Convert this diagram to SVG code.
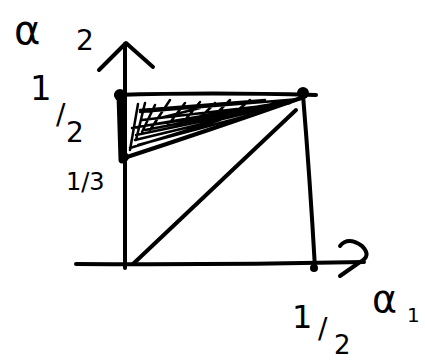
<svg xmlns="http://www.w3.org/2000/svg" width="425" height="360" viewBox="0 0 425 360">
<style>
.s{fill:none;stroke:#000;stroke-width:4;stroke-linecap:round;stroke-linejoin:round}
.t{stroke-width:7}
.h{stroke-width:2.5}
.d{fill:#000}
.l{font-family:"DejaVu Sans","Liberation Sans",sans-serif;fill:#000}
</style>
<rect width="425" height="360" fill="#fff"/>
<g id="axes">
<path class="s" d="M125,268 L125,44"/>
<path class="s" d="M99,70 L126,43 L153,67"/>
<path class="s" d="M76,264 Q220,265 364,262"/>
<path class="s" d="M340,246 Q348,236 362,246 Q372,256 360,262 L340,276"/>
</g>
<g id="region">
<path class="s" d="M116,95 Q210,92 316,95"/>
<path class="s t" d="M120,95 L122,160"/>
<path class="s" d="M124,158 Q210,130 301,98"/>
<path class="s h" d="M138,104 L130,150 M145,103 L136,140 M140,112 L300,99 M132,128 L296,100 M136,135 L290,103 M140,110 L265,100 M150,125 L240,112 M160,118 L200,108 M135,140 L260,110 M170,100 L150,130 M200,102 L185,120 M230,100 L215,115 M142,120 L280,104 M138,145 L250,115 M155,105 L142,132 M185,103 L168,125 M215,103 L200,118 M250,100 L238,110 M130,148 L220,120 M145,130 L285,103"/>
<path class="s" d="M303,95 Q310,180 315,268"/>
<path class="s" d="M133,264 L296,110"/>
<circle class="d" cx="120" cy="95" r="6"/>
<circle class="d" cx="303" cy="93" r="6"/>
<circle class="d" cx="124" cy="157" r="5"/>
<circle class="d" cx="314" cy="268" r="4"/>
</g>
<g id="labels">
<text class="l" x="14" y="44" font-size="40">α</text>
<text class="l" x="76" y="50" font-size="28">2</text>
<text class="l" x="30" y="100" font-size="34">1</text>
<text class="l" x="56" y="124" font-size="28">/</text>
<text class="l" x="66" y="142" font-size="28">2</text>
<text class="l" x="66" y="190" font-size="24">1/3</text>
<text class="l" x="292" y="328" font-size="32">1</text>
<text class="l" x="318" y="338" font-size="28">/</text>
<text class="l" x="334" y="354" font-size="26">2</text>
<text class="l" x="372" y="312" font-size="38">α</text>
<text class="l" x="407" y="322" font-size="20">1</text>
</g>
</svg>
